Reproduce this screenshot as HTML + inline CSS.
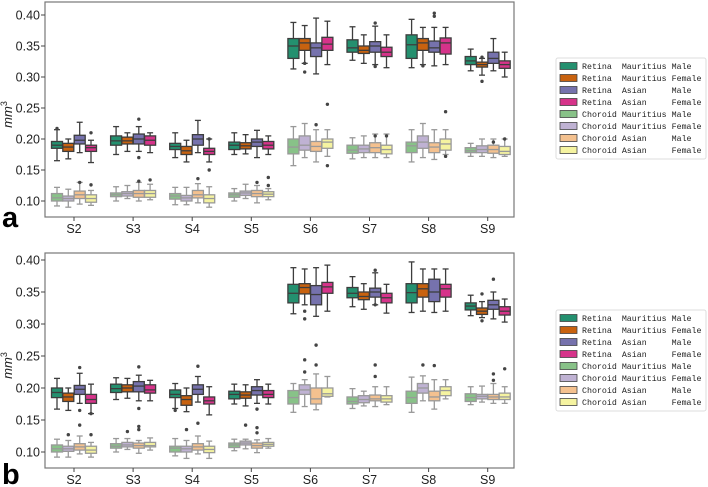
<!DOCTYPE html>
<html><head><meta charset="utf-8"><style>
body{margin:0;background:#fff;width:708px;height:487px;overflow:hidden;font-family:"Liberation Sans",sans-serif}
svg{position:absolute;left:0;top:0}
</style></head><body>
<svg id="chart" width="708" height="487"></svg>
<script>
const categories=["S2","S3","S4","S5","S6","S7","S8","S9"];
const seriesNames=["Retina  Mauritius Male","Retina  Mauritius Female","Retina  Asian     Male","Retina  Asian     Female","Choroid Mauritius Male","Choroid Mauritius Female","Choroid Asian     Male","Choroid Asian     Female"];
const yTicks=[0.10,0.15,0.20,0.25,0.30,0.35,0.40];
const yTickLabels=["0.10","0.15","0.20","0.25","0.30","0.35","0.40"];
// each stat: [wlo,q1,med,q3,whi] per category, per series
const panelA=[
[[.165,.185,.19,.196,.215],[.175,.19,.197,.205,.22],[.17,.183,.188,.193,.21],[.175,.183,.19,.195,.21],[.313,.33,.35,.362,.388],[.327,.34,.347,.36,.381],[.315,.33,.352,.368,.393],[.31,.32,.326,.333,.345]],
[[.168,.18,.187,.193,.20],[.18,.192,.197,.203,.21],[.163,.175,.181,.188,.198],[.176,.184,.189,.194,.207],[.322,.343,.355,.362,.383],[.322,.338,.343,.35,.368],[.32,.343,.355,.362,.38],[.303,.316,.32,.324,.33]],
[[.178,.192,.198,.206,.227],[.18,.192,.2,.208,.22],[.178,.19,.2,.207,.23],[.17,.188,.195,.2,.214],[.305,.333,.347,.355,.395],[.32,.34,.35,.357,.382],[.318,.34,.347,.358,.38],[.31,.322,.33,.34,.362]],
[[.162,.18,.186,.19,.198],[.178,.19,.198,.205,.21],[.163,.175,.18,.185,.2],[.175,.184,.19,.196,.205],[.32,.343,.353,.364,.39],[.315,.333,.34,.348,.368],[.32,.337,.355,.363,.38],[.30,.314,.32,.326,.34]],
[[.092,.10,.105,.112,.122],[.10,.107,.11,.113,.123],[.094,.103,.108,.112,.122],[.10,.106,.11,.113,.12],[.157,.176,.187,.20,.22],[.168,.177,.182,.19,.202],[.163,.178,.189,.195,.215],[.172,.178,.181,.186,.193]],
[[.09,.10,.104,.108,.119],[.104,.108,.112,.115,.125],[.094,.10,.105,.109,.122],[.104,.109,.113,.116,.127],[.17,.182,.19,.205,.225],[.17,.178,.184,.19,.205],[.17,.185,.195,.205,.225],[.172,.178,.183,.189,.20]],
[[.095,.104,.11,.116,.13],[.10,.106,.112,.117,.13],[.097,.105,.11,.117,.128],[.097,.107,.112,.117,.125],[.163,.18,.188,.196,.215],[.17,.178,.186,.194,.208],[.167,.178,.187,.194,.215],[.17,.177,.183,.19,.20]],
[[.093,.098,.104,.11,.117],[.102,.106,.112,.117,.127],[.09,.097,.104,.11,.123],[.102,.107,.111,.115,.12],[.172,.185,.195,.20,.215],[.17,.176,.183,.19,.208],[.175,.182,.192,.20,.215],[.172,.175,.18,.188,.20]]];
const panelB=[
[[.167,.185,.193,.2,.215],[.182,.193,.199,.206,.216],[.168,.185,.19,.197,.207],[.175,.183,.19,.195,.206],[.316,.333,.348,.362,.388],[.327,.341,.348,.357,.374],[.318,.333,.349,.363,.397],[.313,.322,.328,.333,.345]],
[[.165,.179,.186,.192,.20],[.184,.194,.2,.205,.215],[.163,.173,.182,.188,.20],[.172,.184,.189,.194,.205],[.33,.347,.357,.363,.386],[.323,.338,.343,.35,.363],[.32,.342,.355,.363,.386],[.31,.315,.32,.325,.335]],
[[.176,.19,.198,.204,.223],[.18,.194,.203,.21,.22],[.178,.19,.198,.205,.218],[.176,.189,.196,.202,.213],[.312,.33,.346,.36,.388],[.33,.342,.35,.356,.38],[.318,.335,.35,.37,.386],[.308,.323,.33,.337,.35]],
[[.16,.176,.182,.19,.206],[.18,.192,.197,.205,.212],[.158,.175,.18,.186,.202],[.175,.185,.19,.196,.206],[.32,.348,.358,.365,.392],[.317,.333,.341,.348,.362],[.32,.342,.355,.362,.386],[.303,.314,.32,.327,.339]],
[[.092,.10,.105,.111,.12],[.10,.106,.109,.113,.121],[.094,.10,.106,.109,.121],[.102,.107,.111,.114,.12],[.162,.175,.185,.196,.207],[.168,.175,.179,.186,.199],[.162,.176,.185,.195,.217],[.174,.179,.185,.191,.202]],
[[.092,.101,.105,.109,.118],[.104,.108,.111,.115,.121],[.09,.10,.105,.109,.118],[.105,.111,.114,.117,.12],[.171,.19,.197,.205,.213],[.172,.177,.182,.188,.195],[.18,.192,.2,.207,.219],[.178,.183,.187,.19,.203]],
[[.097,.103,.108,.113,.125],[.098,.106,.11,.114,.118],[.097,.103,.108,.113,.125],[.099,.106,.11,.114,.119],[.166,.175,.183,.2,.222],[.171,.18,.183,.189,.202],[.167,.18,.186,.195,.213],[.176,.182,.186,.19,.207]],
[[.092,.098,.103,.109,.115],[.103,.108,.11,.115,.122],[.09,.099,.104,.109,.117],[.106,.109,.112,.115,.121],[.186,.187,.191,.2,.218],[.174,.178,.183,.188,.202],[.183,.188,.196,.202,.213],[.176,.182,.186,.192,.202]]];
const outliersA=[[0,0,.217],[0,3,.21],[1,2,.232],[1,2,.17],[2,3,.2],[2,3,.15],[4,1,.322],[4,1,.308],[5,2,.387],[5,2,.317],[6,2,.398],[6,2,.403],[6,1,.318],[7,1,.332],[7,1,.293],[4,7,.256],[4,6,.223],[4,7,.157],[6,7,.244],[6,7,.172],[7,6,.195],[7,7,.2],[0,6,.13],[0,7,.126],[1,6,.132],[1,7,.134],[2,6,.136],[3,6,.13],[3,7,.138],[3,7,.125],[5,6,.205],[5,7,.205]];
const outliersB=[[0,2,.232],[0,2,.165],[0,3,.16],[1,2,.233],[1,2,.168],[2,2,.234],[2,0,.165],[3,2,.167],[4,1,.32],[4,1,.308],[5,2,.384],[5,2,.33],[7,1,.347],[7,1,.305],[7,2,.37],[4,5,.244],[4,5,.225],[4,6,.267],[4,6,.236],[5,6,.236],[5,6,.218],[6,5,.236],[6,6,.235],[7,6,.222],[7,6,.212],[7,7,.23],[0,6,.142],[0,5,.127],[0,7,.127],[1,6,.14],[1,6,.135],[1,5,.132],[2,5,.135],[2,6,.145],[3,5,.142],[3,6,.138],[3,6,.13]];
const fills=["#24906f","#c8620f","#7672ad","#d6338a","#88c288","#bfb2d3","#f4c18f","#f5f3a0"];
const edges=["#3d3d3d","#3d3d3d","#3d3d3d","#3d3d3d","#999","#999","#999","#999"];
const NS="http://www.w3.org/2000/svg";
const svg=document.getElementById('chart');
function mk(t,a,p){const e=document.createElementNS(NS,t);for(const k in a)e.setAttribute(k,a[k]);(p||svg).appendChild(e);return e;}
function panel(data,outs,top,bot,y40,y10,xlabY,letter,letterY,legTop,pname){
  const g=mk('g',{});
  
  
  const L=45,R=514;
  const y=v=>y10+(v-0.10)/(0.30)*(y40-y10);
  const xc=i=>74+i*59.1;
  const off=[-17,-5.7,5.7,17],bw=11;
  mk('rect',{x:L,y:top,width:R-L,height:bot-top,fill:'none',stroke:'#777','stroke-width':1.2,},g);
  yTicks.forEach((t,i)=>{mk('line',{x1:L-4,x2:L,y1:y(t),y2:y(t),stroke:'#444'},g);
    const tx=mk('text',{x:L-5,y:y(t)+4.5,'text-anchor':'end','font-size':12.5,fill:'#222',},g);tx.textContent=yTickLabels[i];});
  categories.forEach((c,i)=>{mk('line',{x1:xc(i),x2:xc(i),y1:bot,y2:bot+4,stroke:'#444'},g);
    const tx=mk('text',{x:xc(i),y:xlabY,'text-anchor':'middle','font-size':12.5,fill:'#222',},g);tx.textContent=c;});
  const yl=mk('text',{transform:`translate(12,${(top+bot)/2+5}) rotate(-90)`,'text-anchor':'middle','font-size':13,'font-style':'italic',fill:'#222',},g);
  yl.innerHTML='mm<tspan dy="-5" font-size="9" font-style="normal">3</tspan>';
  const lt=mk('text',{x:2,y:letterY,'font-size':29,'font-weight':'bold',fill:'#000',},g);lt.textContent=letter;
  data.forEach((ser,s)=>{ser.forEach((st,i)=>{
    const cx=xc(i)+off[s%4],col=edges[s];
    const bg=mk('g',{},g);
    
    
    mk('line',{x1:cx,x2:cx,y1:y(st[0]),y2:y(st[1]),stroke:col,'stroke-width':1.3},bg);
    mk('line',{x1:cx,x2:cx,y1:y(st[3]),y2:y(st[4]),stroke:col,'stroke-width':1.3},bg);
    mk('line',{x1:cx-3,x2:cx+3,y1:y(st[0]),y2:y(st[0]),stroke:col,'stroke-width':1.3},bg);
    mk('line',{x1:cx-3,x2:cx+3,y1:y(st[4]),y2:y(st[4]),stroke:col,'stroke-width':1.3},bg);
    mk('rect',{x:cx-bw/2,y:y(st[3]),width:bw,height:y(st[1])-y(st[3]),fill:fills[s],stroke:col,'stroke-width':1.3},bg);
    mk('line',{x1:cx-bw/2,x2:cx+bw/2,y1:y(st[2]),y2:y(st[2]),stroke:col,'stroke-width':1.3},bg);
  });});
  outs.forEach(o=>{const c=mk('circle',{cx:xc(o[0])+off[o[1]%4],cy:y(o[2]),r:1.7,fill:'#444'},g);
    });
  const lg=mk('g',{},g);
  
  
  mk('rect',{x:556,y:legTop,width:150,height:101,fill:'#fff',stroke:'#ddd','stroke-width':1,rx:2},lg);
  seriesNames.forEach((n,s)=>{const yy=legTop+8+s*12;
    const e=mk('g',{},lg);
    
    
    mk('rect',{x:560,y:yy-3.5,width:17,height:7,fill:fills[s],stroke:'#444','stroke-width':0.8},e);
    const t=mk('text',{x:582,y:yy+3,'font-size':8.3,'font-family':'"Liberation Mono","DejaVu Sans Mono",monospace',fill:'#222'},e);
    t.setAttribute('style','white-space:pre');t.textContent=n;});
}
panel(panelA,outliersA,2,217,15,201,233,'a',227,58,'panel-a');
panel(panelB,outliersB,253,468,260,452,484,'b',484,310,'panel-b');
</script>
</body></html>
